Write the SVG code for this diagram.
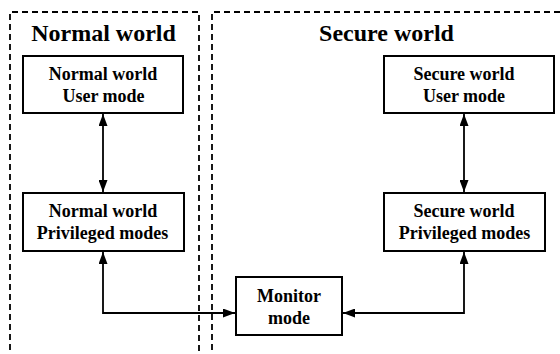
<svg xmlns="http://www.w3.org/2000/svg" width="560" height="354" viewBox="0 0 560 354">
<style>
.zone{fill:none;stroke:#000;stroke-width:1.8;stroke-dasharray:6 4}
.box{fill:#fff;stroke:#000;stroke-width:2}
.t{font-family:"Liberation Serif","Times New Roman",serif;font-weight:bold;font-size:18px;text-anchor:middle;fill:#000}
.h{font-family:"Liberation Serif","Times New Roman",serif;font-weight:bold;font-size:24px;text-anchor:middle;fill:#000}
.c{fill:none;stroke:#000;stroke-width:1.8}
</style>
<defs>
<marker id="a" viewBox="0 0 12 9" refX="12" refY="4.5" markerWidth="12" markerHeight="9" markerUnits="userSpaceOnUse" orient="auto-start-reverse">
<path d="M0,0 L12,4.5 L0,9 z" fill="#000"/>
</marker>
</defs>
<rect width="560" height="354" fill="#fff"/>
<g id="normal-zone">
<path class="zone" d="M10,360 V12 H199 V360"/>
<text class="h" x="103.5" y="41">Normal world</text>
</g>
<g id="secure-zone">
<path class="zone" d="M212,360 V12 H565"/>
<text class="h" x="386.5" y="41">Secure world</text>
</g>
<g id="connectors">
<line class="c" x1="103" y1="114" x2="103" y2="192" marker-start="url(#a)" marker-end="url(#a)"/>
<line class="c" x1="464" y1="114" x2="464" y2="192" marker-start="url(#a)" marker-end="url(#a)"/>
<path class="c" d="M103,252 V313 H235" marker-start="url(#a)" marker-end="url(#a)"/>
<path class="c" d="M464,252 V313 H343" marker-start="url(#a)" marker-end="url(#a)"/>
</g>
<g id="nw-user">
<rect class="box" x="23" y="56" width="160" height="57"/>
<text class="t" x="103" y="80">Normal world</text>
<text class="t" x="103.5" y="102">User mode</text>
</g>
<g id="nw-priv">
<rect class="box" x="23" y="193" width="161" height="58"/>
<text class="t" x="103" y="217">Normal world</text>
<text class="t" x="102.5" y="239">Privileged modes</text>
</g>
<g id="sw-user">
<rect class="box" x="384" y="56" width="170" height="57"/>
<text class="t" x="464" y="80">Secure world</text>
<text class="t" x="464" y="102">User mode</text>
</g>
<g id="sw-priv">
<rect class="box" x="384" y="193" width="161" height="58"/>
<text class="t" x="464" y="217">Secure world</text>
<text class="t" x="464.5" y="239">Privileged modes</text>
</g>
<g id="monitor">
<rect class="box" x="236" y="277" width="106" height="58"/>
<text class="t" x="289" y="302">Monitor</text>
<text class="t" x="289" y="324">mode</text>
</g>
</svg>
